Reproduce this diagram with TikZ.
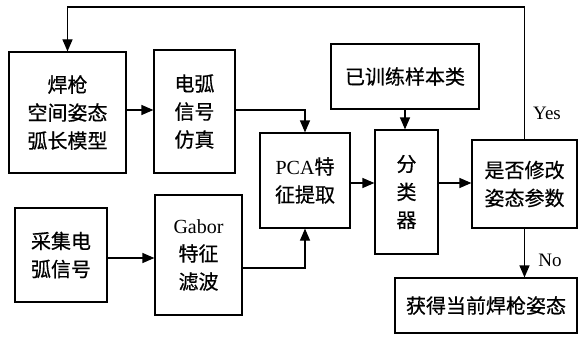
\documentclass[tikz,border=0pt]{standalone}
\usepackage{fontspec}
\setmainfont{Liberation Serif}
\newfontfamily\cjk[FakeBold=0.6]{Noto Sans CJK SC}
\newfontfamily\lat{Liberation Serif}
\usetikzlibrary{arrows.meta,calc}
\begin{document}
\begin{tikzpicture}[x=1pt,y=-1pt,
  box/.style={draw,line width=1.2pt,align=center,inner sep=0pt,
    font=\cjk\fontsize{20}{28}\selectfont},
  arr/.style={line width=1.2pt,-{Triangle[length=12pt,width=10pt]}},
  lbl/.style={font=\lat\fontsize{19}{22}\selectfont,inner sep=0pt}]
\useasboundingbox (0,0) rectangle (581,337);
\node[box,minimum width=117pt,minimum height=121pt] (b1) at (67.5,112.5) {焊枪\\空间姿态\\弧长模型};
\node[box,minimum width=81pt,minimum height=123pt] (b2) at (194.5,111.5) {电弧\\信号\\仿真};
\node[box,minimum width=90pt,minimum height=95pt] (pca) at (305,180.5) {{\lat PCA}特\\征提取};
\node[box,minimum width=148pt,minimum height=65pt] (train) at (405,76.5) {已训练样本类};
\node[box,minimum width=63pt,minimum height=124pt] (cls) at (406.5,192) {分\\类\\器};
\node[box,minimum width=105pt,minimum height=88pt] (judge) at (524.5,184) {是否修改\\姿态参数};
\node[box,minimum width=182pt,minimum height=55pt] (result) at (486,305.5) {获得当前焊枪姿态};
\node[box,minimum width=92pt,minimum height=94pt] (acq) at (61,255) {采集电\\弧信号};
\node[box,minimum width=87pt,minimum height=120pt] (gabor) at (198.5,255) {{\lat Gabor}\\特征\\滤波};
\coordinate (top) at (0,7);
\draw[arr] (b1.east|-{(0,110)}) -- (b2.west|-{(0,110)});
\draw[arr] (b2.east|-{(0,110)}) -| (pca.north);
\draw[arr] (acq.east|-{(0,258)}) -- (gabor.west|-{(0,258)});
\draw[arr] (gabor.east|-{(0,268)}) -| (pca.south);
\draw[arr] (pca.east|-{(0,183)}) -- (cls.west|-{(0,183)});
\draw[arr] (cls.east|-{(0,183)}) -- (judge.west|-{(0,183)});
\draw[arr] (train.south) -- (train.south|-cls.north);
\draw[arr] (judge.south) -- (judge.south|-result.north);
\draw[arr] (judge.north) -- (judge.north|-top) -| (b1.north);
\node[lbl] (yes) at (547,113) {Yes};
\node[lbl] (no) at (550,260) {No};
\end{tikzpicture}
\end{document}
